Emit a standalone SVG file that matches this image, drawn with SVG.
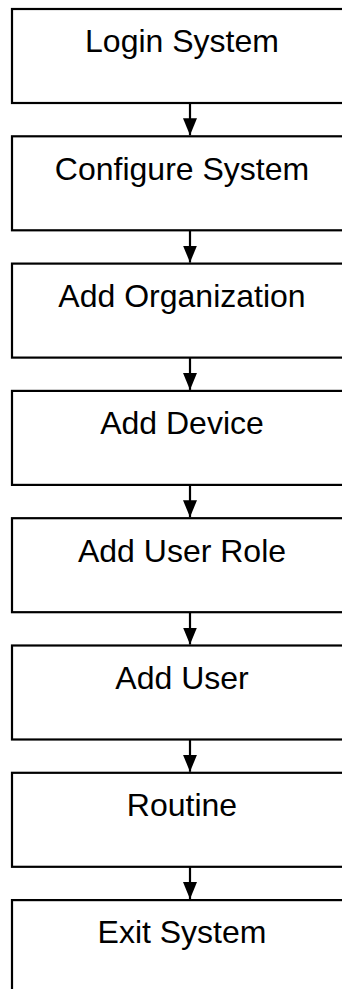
<svg xmlns="http://www.w3.org/2000/svg" width="342" height="989" viewBox="0 0 342 989">
<defs>
<style>
.box{fill:#fff;stroke:#000;stroke-width:2.2}
.lbl{font-family:"Liberation Sans",Arial,sans-serif;font-size:32px;fill:#000;text-anchor:middle}
.conn{stroke:#000;stroke-width:2.2;fill:none}
</style>
<marker id="ah" markerWidth="17" markerHeight="14" refX="17" refY="7" orient="auto" markerUnits="userSpaceOnUse" viewBox="0 0 17 14">
<path d="M0,0 L17,7 L0,14 Z" fill="#000"/>
</marker>
</defs>
<rect width="342" height="989" fill="#fff"/>
<g id="n1"><rect class="box" x="12" y="9" width="360" height="94"/><text class="lbl" x="182" y="52">Login System</text></g>
<g id="n2"><rect class="box" x="12" y="136.3" width="360" height="94"/><text class="lbl" x="182" y="179.5">Configure System</text></g>
<g id="n3"><rect class="box" x="12" y="263.6" width="360" height="94"/><text class="lbl" x="182" y="306.8">Add Organization</text></g>
<g id="n4"><rect class="box" x="12" y="390.9" width="360" height="94"/><text class="lbl" x="182" y="434.1">Add Device</text></g>
<g id="n5"><rect class="box" x="12" y="518.2" width="360" height="94"/><text class="lbl" x="182" y="561.5">Add User Role</text></g>
<g id="n6"><rect class="box" x="12" y="645.5" width="360" height="94"/><text class="lbl" x="182" y="688.7">Add User</text></g>
<g id="n7"><rect class="box" x="12" y="772.8" width="360" height="94"/><text class="lbl" x="182" y="816">Routine</text></g>
<g id="n8"><rect class="box" x="12" y="900.1" width="360" height="94"/><text class="lbl" x="182" y="943.3">Exit System</text></g>
<g id="connectors">
<path class="conn" d="M190,103 V135.3" marker-end="url(#ah)"/>
<path class="conn" d="M190,230.3 V262.6" marker-end="url(#ah)"/>
<path class="conn" d="M190,357.6 V389.9" marker-end="url(#ah)"/>
<path class="conn" d="M190,484.9 V517.2" marker-end="url(#ah)"/>
<path class="conn" d="M190,612.2 V644.5" marker-end="url(#ah)"/>
<path class="conn" d="M190,739.5 V771.8" marker-end="url(#ah)"/>
<path class="conn" d="M190,866.8 V899.1" marker-end="url(#ah)"/>
</g>
</svg>
